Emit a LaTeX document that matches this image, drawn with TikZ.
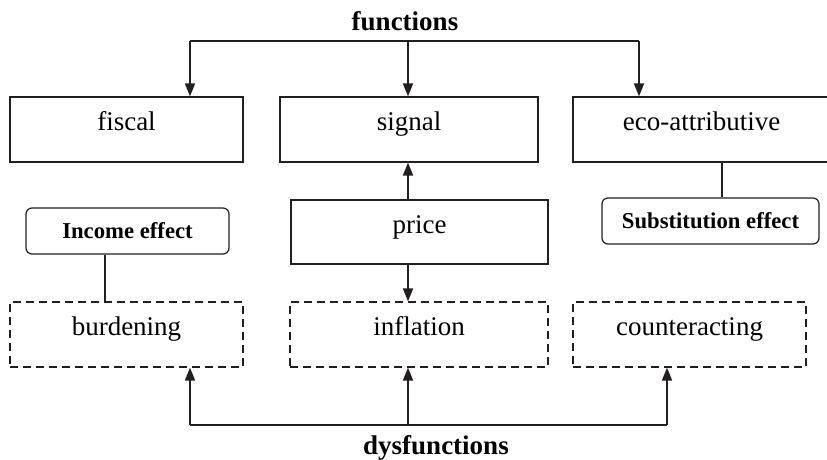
\documentclass[tikz,border=0pt]{standalone}
\usepackage{fontspec}
\setmainfont{Liberation Serif}
\usepackage{xcolor}
\definecolor{cMain}{HTML}{231F20}
\usepackage{tikz}
\usetikzlibrary{positioning,arrows.meta,calc}
\tikzset{
  node-box/.style={draw=cMain,line width=1.2pt,minimum height=65pt,
    text height=0.65em,text depth=0.45em,
    align=center,font=\fontsize{27}{30}\selectfont},
  node-dash/.style={node-box,dash pattern=on 8pt off 5pt},
  node-effect/.style={draw=cMain,line width=1.2pt,rounded corners=6pt,
    minimum height=46pt,align=center,font=\fontsize{22.7}{25}\selectfont\bfseries},
  node-title/.style={font=\fontsize{27}{30}\selectfont\bfseries},
  arrow/.style={-{Triangle[length=13pt,width=10pt]},line width=1.6pt,draw=cMain},
  bus/.style={line width=1.6pt,draw=cMain},
  link/.style={line width=1.2pt,draw=cMain},
}
\begin{document}
\begin{tikzpicture}[x=1pt,y=-1pt]
  \useasboundingbox (0,0) rectangle (827,460);
  % functions row
  \node[node-title] (fn) at (405,21) {functions};
  \node[node-box,minimum width=233pt] (fiscal) at (126.5,129.5) {fiscal};
  \node[node-box,minimum width=258pt] (signal) at (409,129.5) {signal};
  \node[node-box,minimum width=257pt] (eco) at (701.5,129.5) {eco-attributive};
  % effects and price
  \node[node-effect,minimum width=203pt] (income) at (127.5,231) {Income effect};
  \node[node-box,minimum width=257pt,minimum height=64pt] (price) at (419.5,232) {price};
  \node[node-effect,minimum width=217pt] (subst) at (710.5,221) {Substitution effect};
  % dysfunctions row
  \node[node-dash,minimum width=233pt] (burdening) at (126.5,334.5) {burdening};
  \node[node-dash,minimum width=258pt] (inflation) at (419,334.5) {inflation};
  \node[node-dash,minimum width=233pt] (counter) at (689.5,334.5) {counteracting};
  \node[node-title] (dys) at (436,448) {dysfunctions};
  % bus lines
  \coordinate (fn-l) at (190,41);
  \coordinate (fn-m) at (408,41);
  \coordinate (fn-r) at (639,41);
  \coordinate (dys-l) at (190,425);
  \coordinate (dys-m) at (408,425);
  \coordinate (dys-r) at (667,425);
  \draw[bus] (fn-l) -- (fn-r);
  \draw[arrow] (fn-l) -- (fn-l |- fiscal.north);
  \draw[arrow] (fn-m) -- (fn-m |- signal.north);
  \draw[arrow] (fn-r) -- (fn-r |- eco.north);
  \draw[arrow] (price.north -| fn-m) -- (signal.south -| fn-m);
  \draw[arrow] (price.south -| fn-m) -- (inflation.north -| fn-m);
  \draw[link] ([xshift=20.5pt]eco.south) -- ([xshift=20.5pt]eco.south |- subst.north);
  \draw[link] ([xshift=-22.5pt]income.south) -- ([xshift=-22.5pt]income.south |- burdening.north);
  \draw[bus] (dys-l) -- (dys-r);
  \draw[arrow] (dys-l) -- (dys-l |- burdening.south);
  \draw[arrow] (dys-m) -- (dys-m |- inflation.south);
  \draw[arrow] (dys-r) -- (dys-r |- counter.south);
\end{tikzpicture}
\end{document}
